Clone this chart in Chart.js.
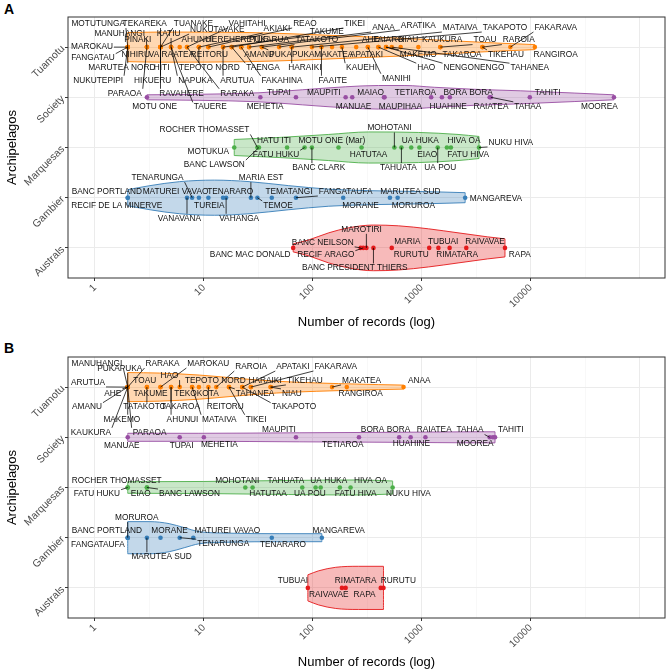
<!DOCTYPE html>
<html>
<head>
<meta charset="utf-8">
<script src="https://cdn.jsdelivr.net/npm/chart.js@4.4.0/dist/chart.umd.min.js"></script>
<style>
  body { margin: 0; background: #fff; width: 669px; height: 669px; position: relative; overflow: hidden; font-family: "Liberation Sans", Arial, sans-serif; }
  canvas { position: absolute; left: 0; }
  .tag { position: absolute; left: 4px; font-weight: bold; font-size: 14px; color: #000; }
</style>
</head>
<body>
<div class="tag" style="top:1px">A</div>
<canvas id="chartA" width="669" height="330" style="top:0px"></canvas>
<div class="tag" style="top:340px">B</div>
<canvas id="chartB" width="669" height="330" style="top:340px"></canvas>
<script>
// categories, bottom to top (y = index + 1)
const archipelagos = ['Australs', 'Gambier', 'Marquesas', 'Society', 'Tuamotu'];
const archColors = ['#E41A1C', '#377EB8', '#4DAF4A', '#984EA3', '#FF7F00'];
const xTickValues = [1, 10, 100, 1000, 10000];

// ---- Panel A ----
const tuamotuA_names = ['MOTUTUNGA','TEKAREKA','TUANAKE','NUKUTAVAKE','VAHITAHI','AKIAKI','REAO','TAKUME','TIKEI','ANAA','ARATIKA','MATAIVA','TAKAPOTO','FAKARAVA',
  'MANUHANGI','KATIU','PINAKI','AHUNUI','HEREHERETUE','PUKARUA','TATAKOTO','AHE','TAIARO','NIAU','KAUKURA','TOAU','RAROIA',
  'MAROKAU','FANGATAU','NIHIRU','VAIRAATEA','REITORU','AMANU','PUKAPUKA','MAKATEA','APATAKI','MAKEMO','TAKAROA','TIKEHAU','RANGIROA',
  'MARUTEA NORD','HITI','TEPOTO NORD','TAENGA','HARAIKI','KAUEHI','HAO','NENGONENGO','TAHANEA',
  'NUKUTEPIPI','HIKUERU','NAPUKA','ARUTUA','FAKAHINA','FAAITE','MANIHI',
  'PARAOA','RAVAHERE','RARAKA','TAUERE'];
const tuamotuA_values = [2,4,4,4,7,9,11,15,18,26,34,64,98,6500,
  3,5,3,9,22,26,49,320,400,640,930,1480,3600,
  2,2,3,6,11,22,34,150,250,470,1480,3600,10900,
  2,4,9,18,64,185,400,470,530,
  2,4,5,15,22,120,320,
  3,4,7,5];
const societyA_names = ['MOTU ONE','MEHETIA','TUPAI','MAUPITI','MANUAE','MAIAO','MAUPIHAA','TETIAROA','HUAHINE','BORA BORA','RAIATEA','TAHAA','TAHITI','MOOREA'];
const societyA_values = [3,33,70,200,230,455,450,1220,1530,1810,4200,4300,9800,58000];
const marquesasA_names = ['ROCHER THOMASSET','MOTUKUA','HATU ITI','MOTU ONE (Mar)','BANC LAWSON','FATU HUKU','BANC CLARK','HATUTAA','MOHOTANI','TAHUATA','UA HUKA','EIAO','UA POU','HIVA OA','FATU HIVA','NUKU HIVA'];
const marquesasA_values = [31,19,58,172,32,84,98,280,560,650,800,950,1400,1850,1700,3350];
const gambierA_names = ['BANC PORTLAND','RECIF DE LA MINERVE','TENARUNGA','MATUREI VAVAO','VANAVANA','TUREIA','TENARARO','VAHANGA','MARIA EST','TEMOE','TEMATANGI','FANGATAUFA','MORANE','MARUTEA SUD','MORUROA','MANGAREVA'];
const gambierA_values = [2,2,7.8,9,7,11,15,16,27,31,42,70,190,510,600,2500];
const australsA_names = ['BANC MAC DONALD','BANC NEILSON','MAROTIRI','RECIF ARAGO','BANC PRESIDENT THIERS','MARIA','RURUTU','TUBUAI','RIMATARA','RAIVAVAE','RAPA'];
const australsA_values = [66,275,310,290,360,530,1170,1420,1800,2560,5800];

// violin outlines: records, half width (category units)
const tuamotuA_violinX = [2,4,26,75,213,610,1750,5000,10900];
const tuamotuA_violinW = [0.29,0.30,0.29,0.26,0.22,0.18,0.13,0.08,0.05];
const societyA_violinX = [3,9,32,80,200,400,700,1300,3000,8000,25000,58000];
const societyA_violinW = [0.05,0.06,0.09,0.15,0.21,0.235,0.235,0.2,0.16,0.13,0.085,0.05];
const marquesasA_violinX = [19,49,140,325,930,2150,3350];
const marquesasA_violinW = [0.16,0.2,0.26,0.31,0.3,0.26,0.22];
const gambierA_violinX = [2,3.2,6,12.5,26,60,140,325,1150,2500];
const gambierA_violinW = [0.16,0.24,0.32,0.35,0.32,0.24,0.17,0.14,0.12,0.10];
const australsA_violinX = [66,92,140,213,360,610,1150,2150,4000,5800];
const australsA_violinW = [0.08,0.16,0.30,0.40,0.455,0.44,0.38,0.30,0.22,0.18];

// ---- Panel B ----
const tuamotuB_names = ['MANUHANGI','PUKAPUKA','RARAKA','MAROKAU','RAROIA','APATAKI','FAKARAVA','ARUTUA','TOAU','HAO','TEPOTO NORD','HARAIKI','TIKEHAU','MAKATEA','ANAA',
  'AHE','TAKUME','TEKOKOTA','TAHANEA','NIAU','RANGIROA','AMANU','TATAKOTO','TAKAROA','REITORU','TAKAPOTO','MAKEMO','AHUNUI','MATAIVA','TIKEI','KAUKURA','PARAOA'];
const tuamotuB_values = [2,2,2,4,13,22.5,27,2,3,6,9,27,41,150,680,
  2,4,7.8,17,41,205,2,3,5,11,22.5,2,5,7.8,17,2,2];
const societyB_names = ['MANUAE','TUPAI','MEHETIA','MAUPITI','TETIAROA','BORA BORA','HUAHINE','RAIATEA','TAHAA','MOOREA','TAHITI'];
const societyB_values = [2,6,10,70,265,620,790,1080,4200,4500,4700];
const marquesasB_names = ['ROCHER THOMASSET','FATU HUKU','EIAO','BANC LAWSON','MOHOTANI','HATUTAA','TAHUATA','UA POU','UA HUKA','FATU HIVA','HIVA OA','NUKU HIVA'];
const marquesasB_values = [2,2,3,3,24,28,80,106,118,177,222,540];
const gambierB_names = ['MORUROA','BANC PORTLAND','FANGATAUFA','MARUTEA SUD','MORANE','MATUREI VAVAO','TENARUNGA','TENARARO','MANGAREVA'];
const gambierB_values = [2,2,2,3,4,8,6,42,121];
const australsB_names = ['TUBUAI','RAIVAVAE','RIMATARA','RAPA','RURUTU'];
const australsB_values = [90,185,200,420,445];

const tuamotuB_violinX = [2,3.9,9.1,17,32,67,172,400,680];
const tuamotuB_violinW = [0.29,0.28,0.24,0.19,0.14,0.10,0.07,0.05,0.04];
const societyB_violinX = [2,9,75,600,3300,4700];
const societyB_violinW = [0.08,0.08,0.09,0.10,0.11,0.11];
const marquesasB_violinX = [2,10,60,250,540];
const marquesasB_violinW = [0.115,0.12,0.14,0.15,0.13];
const gambierB_violinX = [2,3.2,4.8,6.6,9.1,17,49,121];
const gambierB_violinW = [0.32,0.32,0.28,0.2,0.12,0.09,0.08,0.08];
const australsB_violinX = [90,113,162,263,445];
const australsB_violinW = [0.26,0.34,0.41,0.43,0.43];

// label placement (repelled text): [log10 of label centre, offset from row in category units]
const tuamotuA_labelPos = [[0.03,0.47],[0.457,0.47],[0.904,0.47],[1.123,0.35],[1.397,0.47],[1.671,0.37],[1.927,0.47],[2.128,0.31],[2.384,0.47],[2.648,0.39],[2.968,0.43],[3.352,0.39],[3.763,0.39],[4.229,0.39],
  [0.228,0.27],[0.676,0.27],[0.393,0.14],[0.941,0.14],[1.306,0.14],[1.598,0.14],[2.037,0.14],[2.53,0.14],[2.694,0.14],[2.877,0.14],[3.187,0.14],[3.58,0.14],[3.89,0.14],
  [-0.027,0],[-0.018,-0.22],[0.374,-0.145],[0.703,-0.145],[1.05,-0.145],[1.507,-0.145],[1.808,-0.145],[2.192,-0.145],[2.493,-0.145],[2.968,-0.145],[3.37,-0.145],[3.772,-0.145],[4.229,-0.145],
  [0.247,-0.41],[0.612,-0.41],[1.05,-0.41],[1.543,-0.41],[1.927,-0.41],[2.447,-0.41],[3.041,-0.41],[3.479,-0.41],[3.991,-0.41],
  [0.03,-0.66],[0.53,-0.66],[0.922,-0.66],[1.306,-0.66],[1.717,-0.66],[2.183,-0.66],[2.767,-0.62],
  [0.274,-0.92],[0.795,-0.92],[1.306,-0.92],[1.059,-1.19]];
const societyA_labelPos = [[0.548,-0.18],[1.562,-0.18],[1.689,0.093],[2.1,0.093],[2.374,-0.18],[2.53,0.093],[2.804,-0.18],[2.941,0.093],[3.242,-0.18],[3.425,0.093],[3.635,-0.18],[3.973,-0.18],[4.155,0.093],[4.63,-0.18]];
const marquesasA_labelPos = [[1.005,0.35],[1.041,-0.085],[1.644,0.133],[2.174,0.133],[1.096,-0.34],[1.662,-0.145],[2.055,-0.40],[2.511,-0.145],[2.703,0.39],[2.785,-0.40],[2.986,0.133],[3.05,-0.145],[3.169,-0.40],[3.388,0.133],[3.425,-0.145],[3.817,0.1]];
const gambierA_labelPos = [[0.11,0.123],[0.2,-0.154],[0.575,0.4],[0.74,0.123],[0.776,-0.41],[1.05,-0.154],[1.242,0.123],[1.324,-0.41],[1.525,0.4],[1.68,-0.154],[1.781,0.123],[2.301,0.123],[2.438,-0.154],[2.895,0.123],[2.922,-0.154],[3.68,-0.016]];
const australsA_labelPos = [[1.425,-0.145],[2.091,0.11],[2.447,0.37],[2.119,-0.145],[2.384,-0.40],[2.868,0.13],[2.904,-0.145],[3.196,0.13],[3.324,-0.145],[3.58,0.13],[3.9,-0.145]];

const tuamotuB_labelPos = [[0.018,0.47],[0.228,0.37],[0.621,0.47],[1.041,0.47],[1.434,0.41],[1.817,0.41],[2.21,0.41],[-0.064,0.093],[0.457,0.133],[0.685,0.23],[1.105,0.133],[1.562,0.133],[1.927,0.133],[2.447,0.133],[2.977,0.133],
  [0.164,-0.125],[0.511,-0.125],[0.932,-0.125],[1.47,-0.125],[1.808,-0.125],[2.438,-0.125],[-0.073,-0.40],[0.457,-0.40],[0.785,-0.40],[1.196,-0.40],[1.826,-0.40],[0.247,-0.64],[0.804,-0.64],[1.142,-0.64],[1.479,-0.64],[-0.037,-0.90],[0.502,-0.90]];
const societyB_labelPos = [[0.247,-0.17],[0.795,-0.17],[1.142,-0.15],[1.689,0.145],[2.274,-0.15],[2.667,0.145],[2.904,-0.13],[3.114,0.145],[3.443,0.145],[3.489,-0.13],[3.817,0.145]];
const marquesasB_labelPos = [[0.2,0.145],[0.018,-0.133],[0.42,-0.133],[0.868,-0.12],[1.306,0.145],[1.589,-0.133],[1.753,0.145],[1.973,-0.133],[2.146,0.145],[2.393,-0.133],[2.53,0.145],[2.877,-0.133]];
const gambierB_labelPos = [[0.384,0.40],[0.11,0.14],[0.027,-0.14],[0.612,-0.38],[0.685,0.14],[1.215,0.14],[1.178,-0.12],[1.726,-0.14],[2.237,0.14]];
const australsB_labelPos = [[1.817,0.145],[2.146,-0.133],[2.393,0.145],[2.475,-0.133],[2.785,0.145]];

function group(cat, names, values, vx, vw, labelPos) {
    return { cat, names, values, vx, vw, labelPos, color: archColors[cat - 1] };
}

const panelA = [
    group(5, tuamotuA_names, tuamotuA_values, tuamotuA_violinX, tuamotuA_violinW, tuamotuA_labelPos),
    group(4, societyA_names, societyA_values, societyA_violinX, societyA_violinW, societyA_labelPos),
    group(3, marquesasA_names, marquesasA_values, marquesasA_violinX, marquesasA_violinW, marquesasA_labelPos),
    group(2, gambierA_names, gambierA_values, gambierA_violinX, gambierA_violinW, gambierA_labelPos),
    group(1, australsA_names, australsA_values, australsA_violinX, australsA_violinW, australsA_labelPos)
];
const panelB = [
    group(5, tuamotuB_names, tuamotuB_values, tuamotuB_violinX, tuamotuB_violinW, tuamotuB_labelPos),
    group(4, societyB_names, societyB_values, societyB_violinX, societyB_violinW, societyB_labelPos),
    group(3, marquesasB_names, marquesasB_values, marquesasB_violinX, marquesasB_violinW, marquesasB_labelPos),
    group(2, gambierB_names, gambierB_values, gambierB_violinX, gambierB_violinW, gambierB_labelPos),
    group(1, australsB_names, australsB_values, australsB_violinX, australsB_violinW, australsB_labelPos)
];

function alpha(hex, a) {
    const n = parseInt(hex.slice(1), 16);
    return `rgba(${n >> 16}, ${(n >> 8) & 255}, ${n & 255}, ${a})`;
}

function isDecade(v) {
    const l = Math.log10(v);
    return Math.abs(l - Math.round(l)) < 1e-6;
}

// text labels with leader segments, then the panel border
const repelLabels = {
    id: 'repelLabels',
    afterDatasetsDraw(chart, args, opts) {
        const { ctx, chartArea, scales: { x, y } } = chart;
        ctx.save();
        ctx.font = '8.3px "Liberation Sans", Arial, sans-serif';
        const items = [];
        opts.groups.forEach(g => {
            g.names.forEach((name, i) => {
                items.push({
                    name,
                    px: x.getPixelForValue(g.values[i]),
                    py: y.getPixelForValue(g.cat),
                    lx: x.getPixelForValue(Math.pow(10, g.labelPos[i][0])),
                    ly: y.getPixelForValue(g.cat + g.labelPos[i][1]),
                    w: ctx.measureText(name).width
                });
            });
        });
        ctx.strokeStyle = '#000';
        ctx.lineWidth = 0.75;
        items.forEach(it => {
            const hw = it.w / 2 + 1, hh = 4.5;
            const cx = Math.max(it.lx - hw, Math.min(it.px, it.lx + hw));
            const cy = Math.max(it.ly - hh, Math.min(it.py, it.ly + hh));
            if (Math.hypot(cx - it.px, cy - it.py) > 5) {
                ctx.beginPath();
                ctx.moveTo(it.px, it.py);
                ctx.lineTo(cx, cy);
                ctx.stroke();
            }
        });
        ctx.fillStyle = '#111';
        ctx.textAlign = 'center';
        ctx.textBaseline = 'middle';
        items.forEach(it => ctx.fillText(it.name, it.lx, it.ly));
        ctx.strokeStyle = '#333';
        ctx.lineWidth = 1;
        ctx.strokeRect(chartArea.left, chartArea.top, chartArea.right - chartArea.left, chartArea.bottom - chartArea.top);
        ctx.restore();
    }
};

function makeChart(canvasId, groups) {
    const datasets = [];
    groups.forEach(g => {
        datasets.push({
            type: 'scatter',
            data: g.values.map(v => ({ x: v, y: g.cat })),
            backgroundColor: g.color,
            borderWidth: 0,
            pointRadius: 2.3,
            order: 1
        });
        const edge = {
            type: 'line',
            borderColor: g.color,
            borderWidth: 0.9,
            pointRadius: 0,
            cubicInterpolationMode: 'monotone',
            order: 2
        };
        datasets.push(Object.assign({}, edge, {
            data: g.vx.map((v, i) => ({ x: v, y: g.cat + g.vw[i] })),
            backgroundColor: alpha(g.color, 0.3),
            fill: '+1'
        }));
        datasets.push(Object.assign({}, edge, {
            data: g.vx.map((v, i) => ({ x: v, y: g.cat - g.vw[i] })),
            fill: false
        }));
        const last = g.vx.length - 1;
        [0, last].forEach(k => {
            datasets.push(Object.assign({}, edge, {
                data: [{ x: g.vx[k], y: g.cat + g.vw[k] }, { x: g.vx[k], y: g.cat - g.vw[k] }],
                fill: false
            }));
        });
    });

    return new Chart(document.getElementById(canvasId), {
        type: 'scatter',
        data: { datasets },
        plugins: [repelLabels],
        options: {
            responsive: false,
            animation: false,
            devicePixelRatio: 1,
            layout: { padding: { top: 17, right: 1, left: 0, bottom: 0 } },
            plugins: {
                legend: { display: false },
                tooltip: { enabled: false },
                repelLabels: { groups }
            },
            scales: {
                x: {
                    type: 'logarithmic',
                    min: Math.pow(10, -0.247),
                    max: Math.pow(10, 5.232),
                    afterBuildTicks: scale => {
                        const t = [];
                        for (let k = 0; k <= 10; k++) t.push({ value: Math.pow(10, k / 2) });
                        scale.ticks = t;
                    },
                    afterFit: scale => { scale.height = 52; },
                    border: { display: false },
                    grid: {
                        color: c => (c.tick && isDecade(c.tick.value) ? '#EBEBEB' : '#F3F3F3'),
                        lineWidth: c => (c.tick && isDecade(c.tick.value) ? 1 : 0.6),
                        tickColor: c => (c.tick && isDecade(c.tick.value) && xTickValues.includes(Math.round(c.tick.value)) ? '#333' : 'rgba(0,0,0,0)'),
                        tickLength: 3
                    },
                    ticks: {
                        autoSkip: false,
                        minRotation: 45,
                        maxRotation: 45,
                        padding: 1,
                        color: '#4D4D4D',
                        font: { size: 10, family: '"Liberation Sans", Arial, sans-serif' },
                        callback: v => (xTickValues.includes(Math.round(v)) && isDecade(v) ? String(Math.round(v)) : '')
                    },
                    title: {
                        display: true,
                        text: 'Number of records (log)',
                        color: '#000',
                        font: { size: 13, family: '"Liberation Sans", Arial, sans-serif' },
                        padding: { top: 0, bottom: 0 }
                    }
                },
                y: {
                    type: 'linear',
                    min: 0.4,
                    max: 5.6,
                    afterBuildTicks: scale => {
                        scale.ticks = archipelagos.map((a, i) => ({ value: i + 1 }));
                    },
                    afterFit: scale => { scale.width = 68; },
                    border: { display: false },
                    grid: { color: '#EBEBEB', lineWidth: 1, tickColor: '#333', tickLength: 3 },
                    ticks: {
                        minRotation: 45,
                        maxRotation: 45,
                        padding: 2,
                        color: '#4D4D4D',
                        font: { size: 10.5, family: '"Liberation Sans", Arial, sans-serif' },
                        callback: v => archipelagos[Math.round(v) - 1]
                    },
                    title: {
                        display: true,
                        text: 'Archipelagos',
                        color: '#000',
                        font: { size: 13, family: '"Liberation Sans", Arial, sans-serif' },
                        padding: { top: 5, bottom: 0 }
                    }
                }
            }
        }
    });
}

makeChart('chartA', panelA);
makeChart('chartB', panelB);
</script>
</body>
</html>
